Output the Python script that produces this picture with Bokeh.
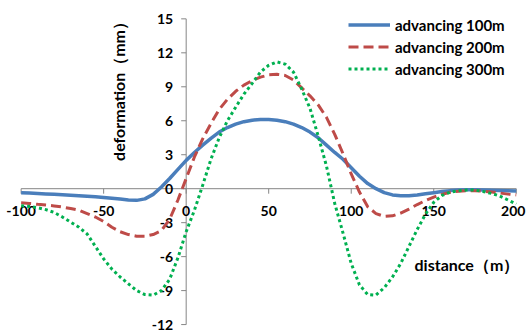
from math import pi
from bokeh.plotting import figure
from bokeh.models import Range1d, Legend, LegendItem, Label, ColumnDataSource
from bokeh.core.properties import value
from bokeh.embed import file_html
from bokeh.resources import INLINE

# ---- data ----
distance = [-100, -95, -90, -85, -80, -75, -70, -65, -60, -55, -50, -45, -40, -35, -30,
            -25, -20, -15, -10, -5, 0, 5, 10, 15, 20, 25, 30, 35, 40, 45, 50, 55, 60,
            65, 70, 75, 80, 85, 90, 95, 100, 105, 110, 115, 120, 125, 130, 135, 140,
            145, 150, 155, 160, 165, 170, 175, 180, 185, 190, 195, 200]

adv100 = [-0.35, -0.38, -0.42, -0.46, -0.5, -0.54, -0.58, -0.62, -0.67, -0.72, -0.77,
          -0.84, -0.92, -1.0, -1.03, -0.9, -0.5, 0.15, 0.9, 1.7, 2.5, 3.2, 3.85, 4.45,
          5.0, 5.4, 5.7, 5.92, 6.05, 6.12, 6.12, 6.05, 5.92, 5.7, 5.4, 5.0, 4.5, 3.85,
          3.2, 2.6, 1.85, 1.1, 0.45, 0.0, -0.35, -0.55, -0.63, -0.62, -0.55, -0.45,
          -0.35, -0.25, -0.17, -0.12, -0.1, -0.1, -0.12, -0.14, -0.16, -0.18, -0.2]

adv200 = [-1.25, -1.3, -1.38, -1.45, -1.52, -1.62, -1.75, -1.9, -2.2, -2.5, -2.9, -3.4,
          -3.8, -4.05, -4.2, -4.2, -4.05, -3.7, -2.7, -1.0, 0.9, 2.8, 4.4, 5.75, 7.0,
          7.9, 8.6, 9.15, 9.55, 9.85, 10.05, 10.1, 10.0, 9.6, 8.9, 8.2, 7.4, 6.3, 4.8,
          3.1, 1.3, -0.3, -1.6, -2.2, -2.45, -2.4, -2.15, -1.8, -1.4, -1.05, -0.75,
          -0.5, -0.32, -0.22, -0.18, -0.18, -0.22, -0.3, -0.38, -0.48, -0.55]

adv300 = [-1.5, -1.58, -1.68, -1.85, -2.1, -2.5, -2.95, -3.4, -4.0, -5.1, -6.2, -7.1,
          -7.8, -8.4, -9.0, -9.35, -9.4, -9.0, -8.0, -6.1, -3.8, -1.9, 0.3, 2.6, 4.5,
          6.0, 7.2, 8.35, 9.3, 10.3, 10.9, 11.2, 11.0, 10.3, 8.8, 7.1, 4.65, 2.0, -1.3,
          -3.9, -6.6, -8.5, -9.35, -9.4, -8.75, -7.8, -6.6, -5.1, -3.6, -2.25, -1.2,
          -0.6, -0.3, -0.18, -0.12, -0.12, -0.25, -0.42, -0.65, -1.0, -1.35]

series_names = ["advancing 100m", "advancing 200m", "advancing 300m"]
x_ticks = [-100, -50, 0, 50, 100, 150, 200]
y_ticks = [-12, -9, -6, -3, 0, 3, 6, 9, 12, 15]
x_title = "distance（m）"
y_title = "deformation（mm）"

FONT = "Lato"
AXIS_COLOR = "#868686"
W, H = 526, 332

p = figure(width=W, height=H, output_backend="svg", toolbar_location=None,
           x_range=Range1d(-112.5, 206.2), y_range=Range1d(-12.70, 16.62),
           min_border=0, x_axis_type=None, y_axis_type=None)
p.outline_line_color = None
p.xgrid.visible = False
p.ygrid.visible = False
p.background_fill_color = "white"
p.border_fill_color = "white"

# axis lines crossing at origin
p.segment(x0=[x_ticks[0]], y0=[0], x1=[x_ticks[-1]], y1=[0], line_color=AXIS_COLOR, line_width=1)
p.segment(x0=[0], y0=[y_ticks[0]], x1=[0], y1=[y_ticks[-1]], line_color=AXIS_COLOR, line_width=1)
# tick marks
p.ray(x=x_ticks, y=[0] * len(x_ticks), length=5, length_units="screen", angle=-pi / 2,
      line_color=AXIS_COLOR, line_width=1)
p.ray(x=[0] * len(y_ticks), y=y_ticks, length=5, length_units="screen", angle=pi,
      line_color=AXIS_COLOR, line_width=1)

# tick labels (last x label nudged inward so it stays inside the canvas)
x_lab_off = [-3 if i == len(x_ticks) - 1 else 0 for i in range(len(x_ticks))]
xl = ColumnDataSource(dict(x=x_ticks, y=[0] * len(x_ticks), t=[str(t) for t in x_ticks], xo=x_lab_off))
yl = ColumnDataSource(dict(x=[0] * len(y_ticks), y=y_ticks, t=[str(t) for t in y_ticks]))
p.text(x="x", y="y", text="t", x_offset="xo", y_offset=22, source=xl,
       text_align="center", text_baseline="middle", text_font=value(FONT),
       text_font_style="bold", text_font_size="14px", text_color="black")
p.text(x="x", y="y", text="t", x_offset=-13, source=yl,
       text_align="right", text_baseline="middle", text_font=value(FONT),
       text_font_style="bold", text_font_size="14px", text_color="black")

src = ColumnDataSource(dict(x=distance, a=adv100, b=adv200, c=adv300))
r1 = p.line("x", "a", source=src, line_color="#4A7EBB", line_width=3.5)
r2 = p.line("x", "b", source=src, line_color="#BE4B48", line_width=3, line_dash="10 5")
r3 = p.line("x", "c", source=src, line_color="#00B050", line_width=3, line_dash="3 3")

legend = Legend(items=[LegendItem(label=series_names[0], renderers=[r1]),
                       LegendItem(label=series_names[1], renderers=[r2]),
                       LegendItem(label=series_names[2], renderers=[r3])],
                location=(348, 253), padding=0, margin=0, spacing=1,
                glyph_width=42, glyph_height=21, label_height=21, label_standoff=5,
                label_text_font=FONT, label_text_font_style="bold",
                label_text_font_size="15px", label_text_color="black",
                border_line_color=None, background_fill_alpha=0)
p.add_layout(legend, "center")

p.add_layout(Label(x=118, y=245, x_units="screen", y_units="screen", text=y_title,
                   angle=pi / 2, text_align="center", text_baseline="middle",
                   text_font=FONT, text_font_style="bold", text_font_size="16px",
                   text_color="black"))
p.add_layout(Label(x=414, y=67.7, x_units="screen", y_units="screen", text=x_title,
                   text_align="left", text_baseline="middle",
                   text_font=FONT, text_font_style="bold", text_font_size="16px",
                   text_color="black"))

open("out.html", "w").write(file_html(p, INLINE))
